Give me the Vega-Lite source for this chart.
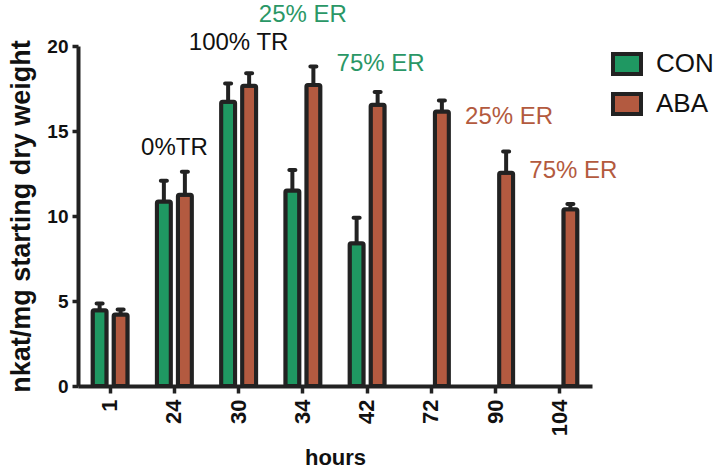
{
  "$schema": "https://vega.github.io/schema/vega-lite/v6.json",
  "width": 514,
  "height": 340,
  "autosize": "none",
  "padding": {"left": 78, "top": 46, "right": 125, "bottom": 83},
  "background": "white",
  "config": {
    "font": "Liberation Sans",
    "view": {"stroke": null},
    "axis": {"domainColor": "#222", "domainWidth": 4, "tickColor": "#222", "tickWidth": 3.5, "labelColor": "#111", "titleColor": "#111", "grid": false}
  },
  "datasets": {
    "bars": [
      {"hours": "1", "series": "CON", "value": 4.45, "upper": 4.85},
      {"hours": "1", "series": "ABA", "value": 4.2, "upper": 4.5},
      {"hours": "24", "series": "CON", "value": 10.85, "upper": 12.08},
      {"hours": "24", "series": "ABA", "value": 11.25, "upper": 12.6},
      {"hours": "30", "series": "CON", "value": 16.72, "upper": 17.8},
      {"hours": "30", "series": "ABA", "value": 17.66, "upper": 18.4},
      {"hours": "34", "series": "CON", "value": 11.5, "upper": 12.7},
      {"hours": "34", "series": "ABA", "value": 17.7, "upper": 18.8},
      {"hours": "42", "series": "CON", "value": 8.4, "upper": 9.9},
      {"hours": "42", "series": "ABA", "value": 16.55, "upper": 17.3},
      {"hours": "72", "series": "ABA", "value": 16.14, "upper": 16.8},
      {"hours": "90", "series": "ABA", "value": 12.55, "upper": 13.8},
      {"hours": "104", "series": "ABA", "value": 10.4, "upper": 10.7}
    ],
    "notes": [
      {"hours": "24", "label": "0%TR", "y": 14.0, "tone": "TR", "attach": "group"},
      {"hours": "30", "label": "100% TR", "y": 20.15, "tone": "TR", "attach": "group"},
      {"hours": "34", "label": "25% ER", "y": 21.85, "tone": "CON", "attach": "group"},
      {"hours": "42", "label": "75% ER", "y": 18.94, "tone": "CON", "attach": "ABA"},
      {"hours": "90", "label": "25% ER", "y": 15.8, "tone": "ABA", "attach": "ABA"},
      {"hours": "104", "label": "75% ER", "y": 12.65, "tone": "ABA", "attach": "ABA"}
    ]
  },
  "encoding": {
    "x": {
      "field": "hours", "type": "nominal", "sort": ["1", "24", "30", "34", "42", "72", "90", "104"],
      "scale": {"paddingInner": 0.455, "paddingOuter": 0.2275},
      "axis": {"title": "hours", "titleFontSize": 22, "titleFontWeight": "bold", "titlePadding": 12,
               "labelAngle": -90, "labelFontSize": 22, "labelFontWeight": "bold", "labelPadding": 6, "tickSize": 7}
    }
  },
  "layer": [
    {
      "data": {"name": "bars"},
      "mark": {"type": "bar", "stroke": "#222", "strokeWidth": 4, "cornerRadius": 1.5},
      "encoding": {
        "xOffset": {"field": "series", "type": "nominal", "scale": {"domain": ["CON", "ABA"], "paddingInner": 0.3333, "paddingOuter": 0}},
        "y": {
          "field": "value", "type": "quantitative",
          "scale": {"domain": [0, 20], "nice": false, "zero": true},
          "axis": {"values": [0, 5, 10, 15, 20], "title": "nkat/mg starting dry weight", "titleFontSize": 27, "titleFontWeight": "bold", "titlePadding": 11,
                   "labelFontSize": 19, "labelFontWeight": "bold", "labelPadding": 4, "tickSize": 6}
        },
        "color": {
          "field": "series", "type": "nominal",
          "scale": {"domain": ["CON", "ABA"], "range": ["#1f9862", "#b35a40"]},
          "legend": {
            "title": null, "orient": "none", "legendX": 536, "legendY": 5,
            "symbolType": "M-1.4,-1H1.4V1H-1.4Z", "symbolSize": 400, "symbolStrokeColor": "#222", "symbolStrokeWidth": 4,
            "symbolOpacity": 1, "labelFontSize": 26, "labelColor": "#111", "labelOffset": 16, "rowPadding": 4, "padding": 0
          }
        }
      }
    },
    {
      "data": {"name": "bars"},
      "mark": {"type": "rule", "color": "#222", "strokeWidth": 4},
      "encoding": {
        "xOffset": {"field": "series", "type": "nominal", "scale": {"domain": ["CON", "ABA"]}},
        "y": {"field": "value", "type": "quantitative"},
        "y2": {"field": "upper"}
      }
    },
    {
      "data": {"name": "bars"},
      "mark": {"type": "tick", "color": "#222", "size": 10, "thickness": 4, "cornerRadius": 2, "opacity": 1},
      "encoding": {
        "xOffset": {"field": "series", "type": "nominal", "scale": {"domain": ["CON", "ABA"]}},
        "y": {"field": "upper", "type": "quantitative"}
      }
    },
    {
      "data": {"name": "notes"},
      "transform": [{"filter": "datum.attach === 'group'"}],
      "mark": {"type": "text", "fontSize": 24, "baseline": "middle", "align": "center"},
      "encoding": {
        "y": {"field": "y", "type": "quantitative"},
        "text": {"field": "label"},
        "color": {"condition": [{"test": "datum.tone === 'CON'", "value": "#2a9766"}, {"test": "datum.tone === 'ABA'", "value": "#b35a3e"}], "value": "#111"}
      }
    },
    {
      "data": {"name": "notes"},
      "transform": [{"filter": "datum.attach === 'ABA'"}],
      "mark": {"type": "text", "fontSize": 24, "baseline": "middle", "align": "center", "dx": 3},
      "encoding": {
        "xOffset": {"field": "attach", "type": "nominal", "scale": {"domain": ["CON", "ABA"]}},
        "y": {"field": "y", "type": "quantitative"},
        "text": {"field": "label"},
        "color": {"condition": [{"test": "datum.tone === 'CON'", "value": "#2a9766"}, {"test": "datum.tone === 'ABA'", "value": "#b35a3e"}], "value": "#111"}
      }
    }
  ]
}
